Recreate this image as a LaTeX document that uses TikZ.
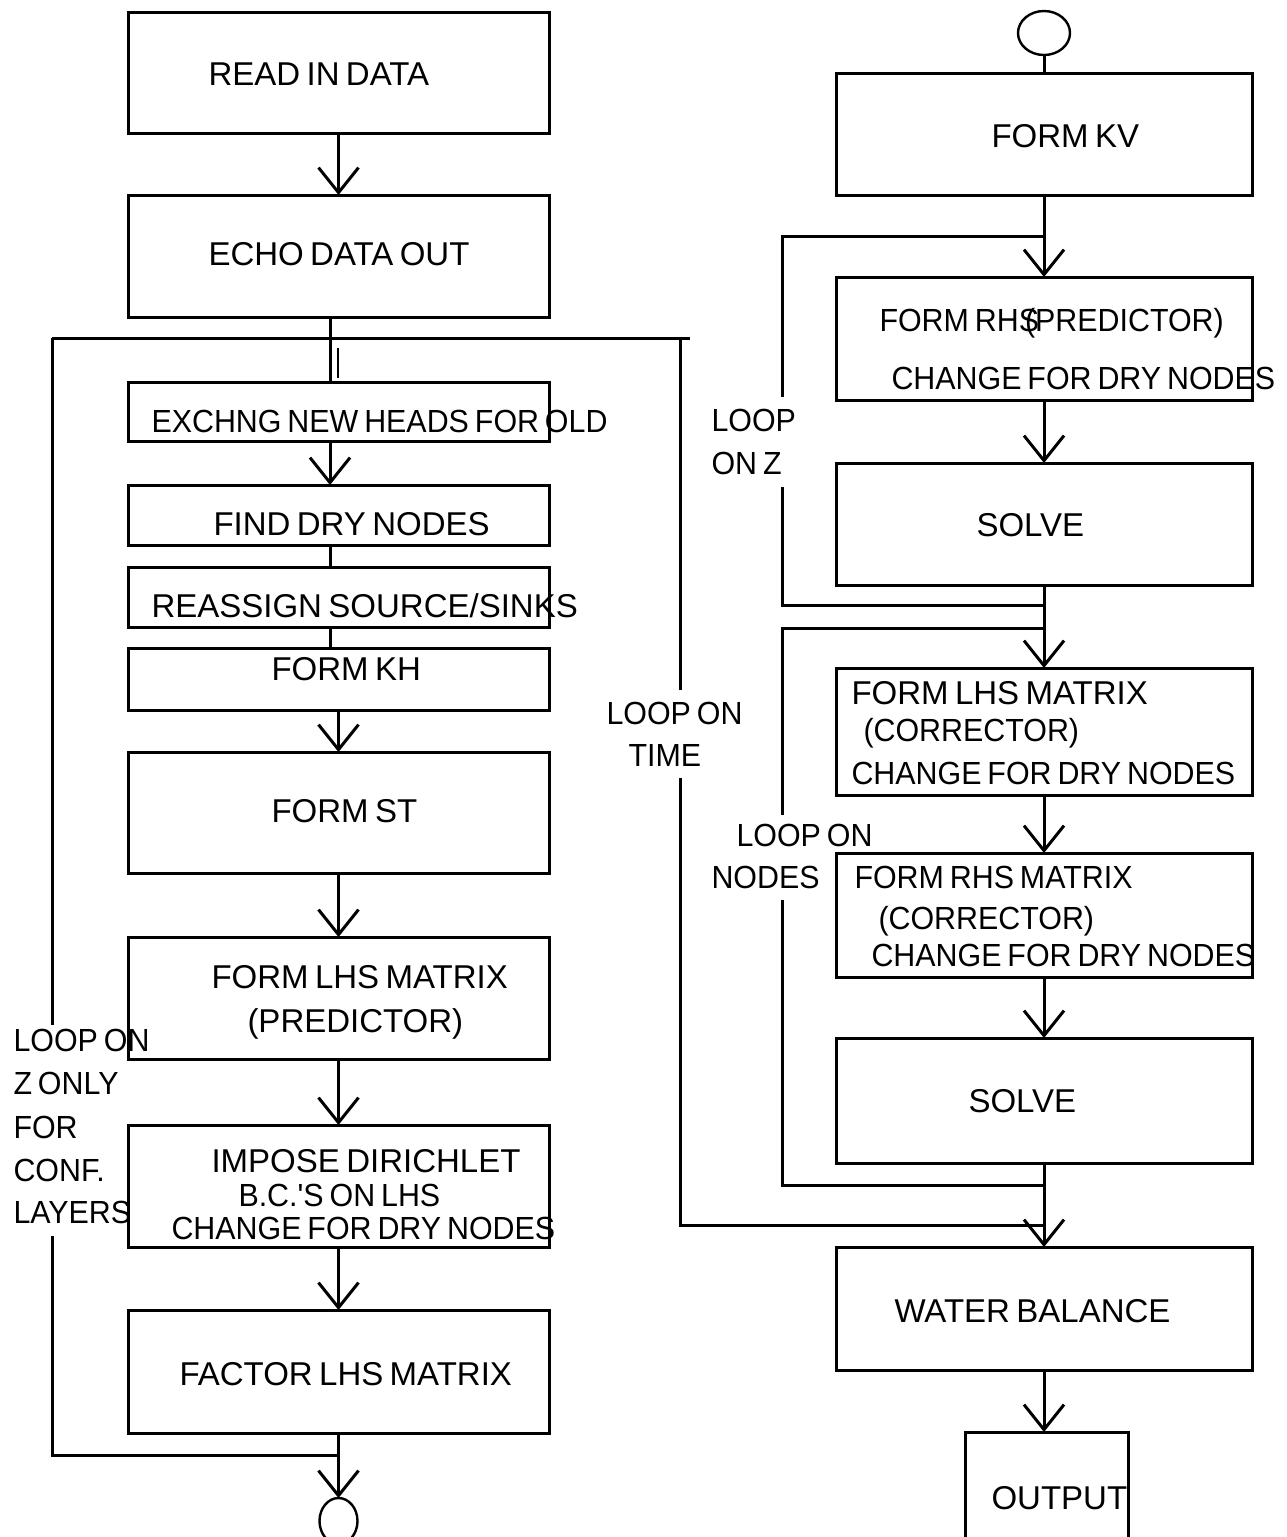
\documentclass[tikz,border=0pt]{standalone}
\usepackage{fontspec}
\setmainfont{Liberation Sans}[WordSpace=0.7]
\newfontfamily\condfont{Liberation Sans}[FakeStretch=0.95,WordSpace=0.7]
\usetikzlibrary{arrows.meta,fit,shapes.geometric}
\begin{document}
\begin{tikzpicture}[x=1pt,y=-1pt,
  line width=3pt,
  box/.style={draw, rectangle, inner sep=0pt, outer sep=0pt, line width=3pt},
  term/.style={draw, ellipse, inner sep=0pt, outer sep=0pt, line width=2.4pt},
  txt/.style={anchor=west, inner sep=0pt, font=\fontsize{33}{38}\selectfont, text height=24pt, text depth=0pt},
  ctxt/.style={anchor=west, inner sep=0pt, font=\condfont\fontsize{32}{38}\selectfont, text height=23pt, text depth=0pt},
  arr/.style={-{Straight Barb[length=25pt,width=40pt]}}]
\useasboundingbox (0,0) rectangle (1287,1537);
\fill[white] (0,0) rectangle (1287,1537);

% ---------------- left column boxes
\node[box, fit={(128,12) (549,133)}] (read) {};
\node[box, fit={(128,195) (549,317)}] (echo) {};
\node[box, fit={(128,382) (549,441)}] (exch) {};
\node[box, fit={(128,485) (549,545)}] (find) {};
\node[box, fit={(128,567) (549,627)}] (reas) {};
\node[box, fit={(128,648) (549,710)}] (kh) {};
\node[box, fit={(128,752) (549,873)}] (st) {};
\node[box, fit={(128,937) (549,1059)}] (lhsp) {};
\node[box, fit={(128,1125) (549,1247)}] (imp) {};
\node[box, fit={(128,1310) (549,1433)}] (fac) {};
\node[term, minimum width=38pt, minimum height=46pt] (endc) at (338.5,1521) {};

% ---------------- right column boxes
\node[term, minimum width=52pt, minimum height=44pt] (startc) at (1044,33) {};
\node[box, fit={(836,73) (1252,195)}] (kv) {};
\node[box, fit={(836,277) (1252,400)}] (rhsp) {};
\node[box, fit={(836,463) (1252,585)}] (solvea) {};
\node[box, fit={(836,668) (1252,795)}] (lhsc) {};
\node[box, fit={(836,853) (1252,977)}] (rhsc) {};
\node[box, fit={(836,1038) (1252,1163)}] (solveb) {};
\node[box, fit={(836,1247) (1252,1370)}] (wb) {};
\node[box, fit={(965,1432) (1128,1550)}] (outp) {};

% ---------------- texts left
\node[txt] (t1) at (207,73) {READ IN DATA};
\node[txt] (t2) at (207,253) {ECHO DATA OUT};
\node[ctxt] (t3) at (150,421) {EXCHNG NEW HEADS FOR OLD};
\node[txt] (t4) at (212,523) {FIND DRY NODES};
\node[txt] (t5) at (150,605) {REASSIGN SOURCE/SINKS};
\node[txt] (t6) at (270,668) {FORM KH};
\node[txt] (t7) at (270,810) {FORM ST};
\node[txt] (t8a) at (210,976) {FORM LHS MATRIX};
\node[txt] (t8b) at (246,1020) {(PREDICTOR)};
\node[txt] (t9a) at (210,1160) {IMPOSE DIRICHLET};
\node[ctxt] (t9b) at (237,1195) {B.C.'S ON LHS};
\node[ctxt] (t9c) at (170,1228) {CHANGE FOR DRY NODES};
\node[txt] (t10) at (178,1373) {FACTOR LHS MATRIX};
\node[ctxt] (lz1) at (12,1040) {LOOP ON};
\node[ctxt] (lz2) at (12,1083) {Z ONLY};
\node[ctxt] (lz3) at (12,1127) {FOR};
\node[ctxt] (lz4) at (12,1170) {CONF.};
\node[ctxt] (lz5) at (12,1212) {LAYERS};
\node[ctxt] (lt1) at (605,713) {LOOP ON};
\node[ctxt] (lt2) at (627,755) {TIME};

% ---------------- texts right
\node[txt] (r1) at (990,135) {FORM KV};
\node[ctxt] (r2a) at (878,320) {FORM RHS\hspace{-14pt}(PREDICTOR)};
\node[ctxt] (r2b) at (890,378) {CHANGE FOR DRY NODES};
\node[txt] (r3) at (975,524) {SOLVE};
\node[ctxt] (rz1) at (710,420) {LOOP};
\node[ctxt] (rz2) at (710,463) {ON Z};
\node[txt] (r4a) at (850,692) {FORM LHS MATRIX};
\node[ctxt] (r4b) at (862,730) {(CORRECTOR)};
\node[ctxt] (r4c) at (850,773) {CHANGE FOR DRY NODES};
\node[ctxt] (rn1) at (735,835) {LOOP ON};
\node[ctxt] (rn2) at (710,877) {NODES};
\node[ctxt] (r5a) at (853,877) {FORM RHS MATRIX};
\node[ctxt] (r5b) at (877,918) {(CORRECTOR)};
\node[ctxt] (r5c) at (870,955) {CHANGE FOR DRY NODES};
\node[txt] (r6) at (967,1100) {SOLVE};
\node[txt] (r7) at (893,1310) {WATER BALANCE};
\node[txt] (r8) at (990,1497) {OUTPUT};

% ---------------- left connectors
\draw[arr] (read.south) -- (echo.north);
\draw ([xshift=-8.5pt]echo.south) -- ([xshift=-8.5pt]exch.north);
\coordinate (tickA) at (338,348);
\coordinate (tickB) at (338,378);
\draw[line width=2.2pt] (tickA) -- (tickB);
\draw[arr] ([xshift=-8.5pt]exch.south) -- ([xshift=-8.5pt]find.north);
\draw ([xshift=-8.5pt]find.south) -- ([xshift=-8.5pt]reas.north);
\draw ([xshift=-8.5pt]reas.south) -- ([xshift=-8.5pt]kh.north);
\draw[arr] (kh.south) -- (st.north);
\draw[arr] (st.south) -- (lhsp.north);
\draw[arr] (lhsp.south) -- (imp.north);
\draw[arr] (imp.south) -- (fac.north);
\draw[arr] (fac.south) -- (endc.north);

% loop on Z only (left)
\coordinate (lzTop) at (52,338);
\coordinate (lzA) at (52,1025);
\coordinate (lzB) at (52,1236);
\coordinate (lzJ) at (338.5,1455);
\coordinate (ltTopR) at (690,338);
\draw (lzTop) -- (ltTopR);
\draw (lzTop) -- (lzA);
\draw (lzB) |- (lzJ);

% loop on time
\coordinate (ltA) at (680,338);
\coordinate (ltB) at (680,690);
\coordinate (ltC) at (680,778);
\coordinate (ltJ) at (1044,1225);
\draw (ltA) -- (ltB);
\draw (ltC) |- (ltJ);

% ---------------- right connectors
\draw (startc.south) -- (kv.north);
\draw[arr] (kv.south) -- (rhsp.north);
\draw[arr] (rhsp.south) -- (solvea.north);
\draw[arr] (solvea.south) -- (lhsc.north);
\draw[arr] (lhsc.south) -- (rhsc.north);
\draw[arr] (rhsc.south) -- (solveb.north);
\draw[arr] (solveb.south) -- (wb.north);
\draw[arr] (wb.south) -- (wb.south |- outp.north);

% loop on Z (right)
\coordinate (rzJ1) at (1044,236);
\coordinate (rzA) at (782,397);
\coordinate (rzB) at (782,487);
\coordinate (rzJ2) at (1044,605);
\draw (rzJ1) -| (rzA);
\draw (rzB) |- (rzJ2);

% loop on nodes
\coordinate (rnJ1) at (1044,628);
\coordinate (rnA) at (782,815);
\coordinate (rnB) at (782,900);
\coordinate (rnJ2) at (1044,1185);
\draw (rnJ1) -| (rnA);
\draw (rnB) |- (rnJ2);
\end{tikzpicture}
\end{document}
